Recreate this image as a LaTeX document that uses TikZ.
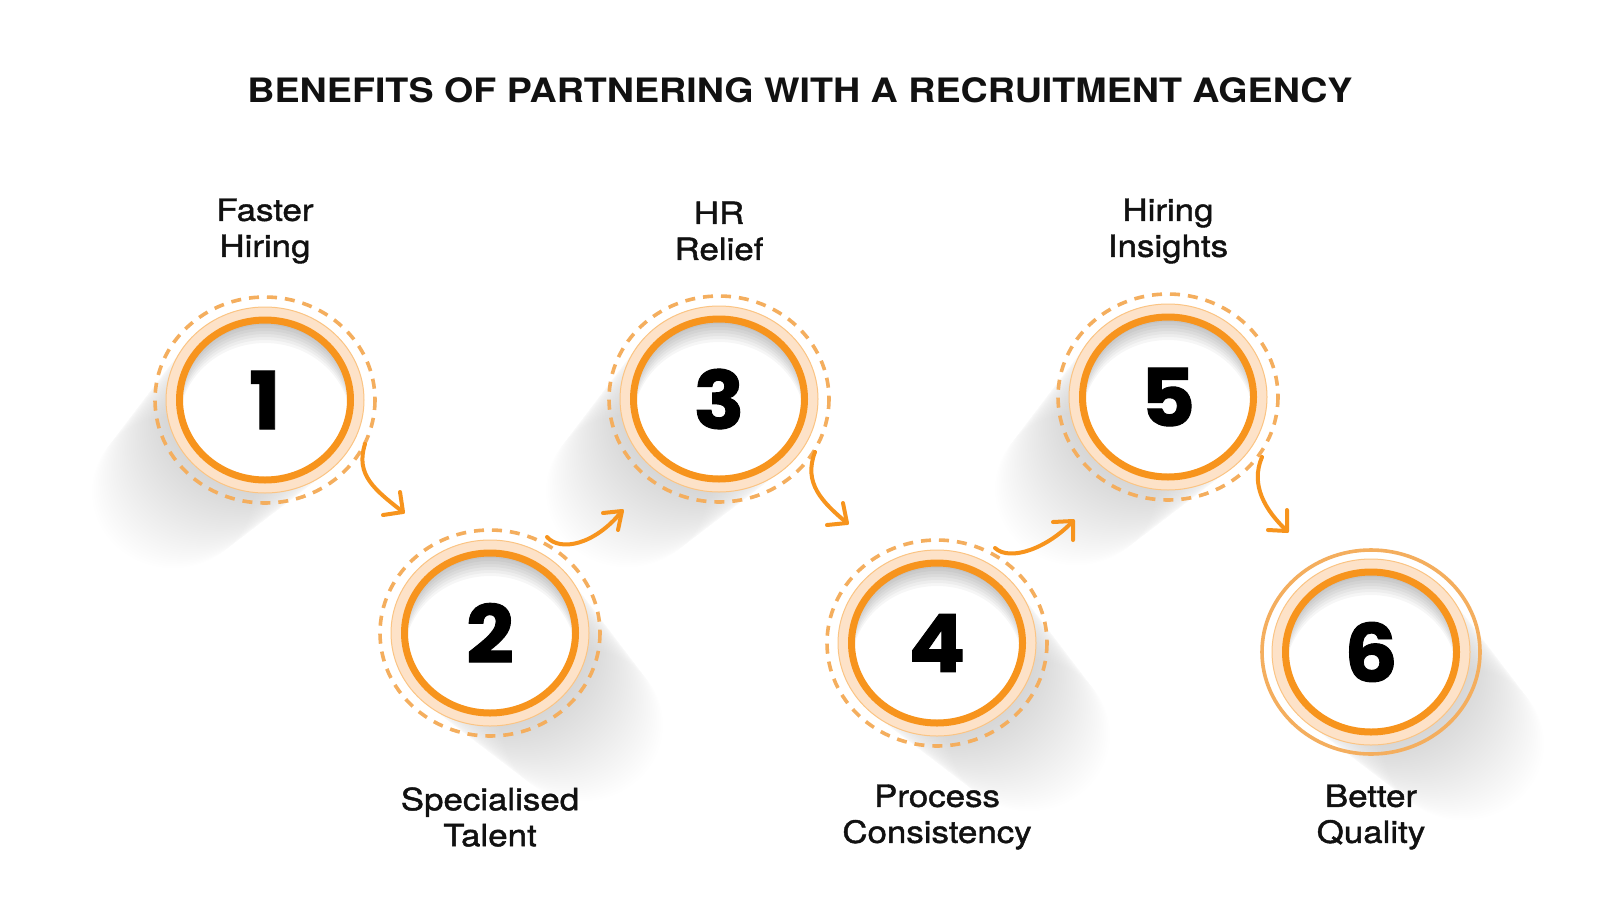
\documentclass[tikz,border=0pt]{standalone}
\usepackage{fontspec}
\setmainfont{TeX Gyre Heros}
\newfontfamily\titlefont{TeX Gyre Heros}[FakeStretch=1.12]
\newfontfamily\labfont{TeX Gyre Heros}[FakeStretch=1.14,FakeBold=1.4]
\newfontfamily\numfont{Poppins}[FakeStretch=1.05,BoldFeatures={FakeBold=1.2}]
\definecolor{orng}{HTML}{F7941D}
\definecolor{peach}{HTML}{FDE2C8}
\definecolor{dashc}{HTML}{F4AE5E}
\definecolor{txt}{HTML}{111111}
\tikzset{
  titletext/.style={font=\titlefont\bfseries\fontsize{16.8}{20}\selectfont, text=txt},
  labeltext/.style={font=\labfont\fontsize{15.3}{18}\selectfont, text=txt, align=center},
  numtext/.style={font=\numfont\bfseries\fontsize{40}{40}\selectfont, text=black},
  ringline/.style={orng, line width=3.5pt},
  dashring/.style={dashc, line width=1.8pt, dash pattern=on 5pt off 4pt},
  solidring/.style={dashc, line width=1.8pt},
  flow/.style={orng, line width=2pt, line cap=round, line join=round},
}
\newcommand\longshadow[3]{%
  \foreach \k in {1,...,40} {
    \fill[black, opacity=0.0055] ({#1+#3*\k*2.3}, {#2+\k*2.3}) ellipse [x radius={99-\k*0.45}, y radius={93-\k*0.42}];
  }%
}
\newcommand\ringbase[2]{%
  \fill[peach] (#1,#2) ellipse [x radius=99, y radius=93];
  \draw[orng!55, line width=0.5pt] (#1,#2) ellipse [x radius=99, y radius=93];
  \fill[white] (#1,#2) ellipse [x radius=85.5, y radius=80];
  \begin{scope}
    \clip (#1,#2) ellipse [x radius=85.5, y radius=80];
    \foreach \s in {3,6,...,24} {
      \fill[black, opacity=0.035, even odd rule] (#1,#2) ellipse [x radius=86, y radius=81]
        (#1,{#2+\s}) ellipse [x radius=86, y radius=81];
    }
  \end{scope}
  \draw[ringline] (#1,#2) ellipse [x radius=85.5, y radius=80];
}
\begin{document}
\begin{tikzpicture}[x=0.5pt,y=-0.5pt]
\useasboundingbox (0,0) rectangle (1600,900);
\fill[white] (0,0) rectangle (1600,900);

% long shadows
\longshadow{265}{400}{-1}
\longshadow{490}{633}{1}
\longshadow{719}{399}{-1}
\longshadow{937}{643}{1}
\longshadow{1168}{397}{-1}
\longshadow{1371}{652}{1}

% rings
\ringbase{265}{400}
\draw[dashring] (265,400) ellipse [x radius=110, y radius=103];
\ringbase{490}{633}
\draw[dashring] (490,633) ellipse [x radius=110, y radius=103];
\ringbase{719}{399}
\draw[dashring] (719,399) ellipse [x radius=110, y radius=103];
\ringbase{937}{643}
\draw[dashring] (937,643) ellipse [x radius=110, y radius=103];
\ringbase{1168}{397}
\draw[dashring] (1168,397) ellipse [x radius=110, y radius=103];
\ringbase{1371}{652}
\draw[solidring] (1371,652) ellipse [x radius=109, y radius=102];

% numbers
\node[numtext] (c1) at (265,400) {1};
\node[numtext] (c2) at (490,633) {2};
\node[numtext] (c3) at (719,399) {3};
\node[numtext] (c4) at (937,643) {4};
\node[numtext] (c5) at (1168,397) {5};
\node[numtext] (c6) at (1371,652) {6};

% title
\node[titletext] (title) at (800,90) {BENEFITS OF PARTNERING WITH A RECRUITMENT AGENCY};

% labels
\node[labeltext] (l1) at (265,231) {Faster\\Hiring};
\node[labeltext] (l3) at (719,231) {HR\\Relief};
\node[labeltext] (l5) at (1168,231) {Hiring\\Insights};
\node[labeltext] (l2) at (490,817) {Specialised\\Talent};
\node[labeltext] (l4) at (937,817) {Process\\Consistency};
\node[labeltext] (l6) at (1371,817) {Better\\Quality};

% arrow end points
\coordinate (a1s) at (365,444); \coordinate (a1t) at (403,512);
\coordinate (a1h) at (400,492); \coordinate (a1k) at (383,515);
\coordinate (a2s) at (547,537); \coordinate (a2t) at (622,511);
\coordinate (a2h) at (603,513); \coordinate (a2k) at (618,530);
\coordinate (a3s) at (815,452); \coordinate (a3t) at (847,523);
\coordinate (a3h) at (843,503); \coordinate (a3k) at (827,525);
\coordinate (a4s) at (995,548); \coordinate (a4t) at (1073,521);
\coordinate (a4h) at (1053,522); \coordinate (a4k) at (1073,540);
\coordinate (a5s) at (1262,457); \coordinate (a5t) at (1287,531);
\coordinate (a5h) at (1287,510); \coordinate (a5k) at (1268,530);

\draw[flow] (a1s) .. controls (355,475) and (375,490) .. (a1t);
\draw[flow] (a1h) -- (a1t) -- (a1k);
\draw[flow] (a2s) .. controls (560,552) and (595,545) .. (a2t);
\draw[flow] (a2h) -- (a2t) -- (a2k);
\draw[flow] (a3s) .. controls (803,483) and (822,502) .. (a3t);
\draw[flow] (a3h) -- (a3t) -- (a3k);
\draw[flow] (a4s) .. controls (1010,562) and (1048,548) .. (a4t);
\draw[flow] (a4h) -- (a4t) -- (a4k);
\draw[flow] (a5s) .. controls (1250,485) and (1265,510) .. (a5t);
\draw[flow] (a5h) -- (a5t) -- (a5k);
\end{tikzpicture}
\end{document}
